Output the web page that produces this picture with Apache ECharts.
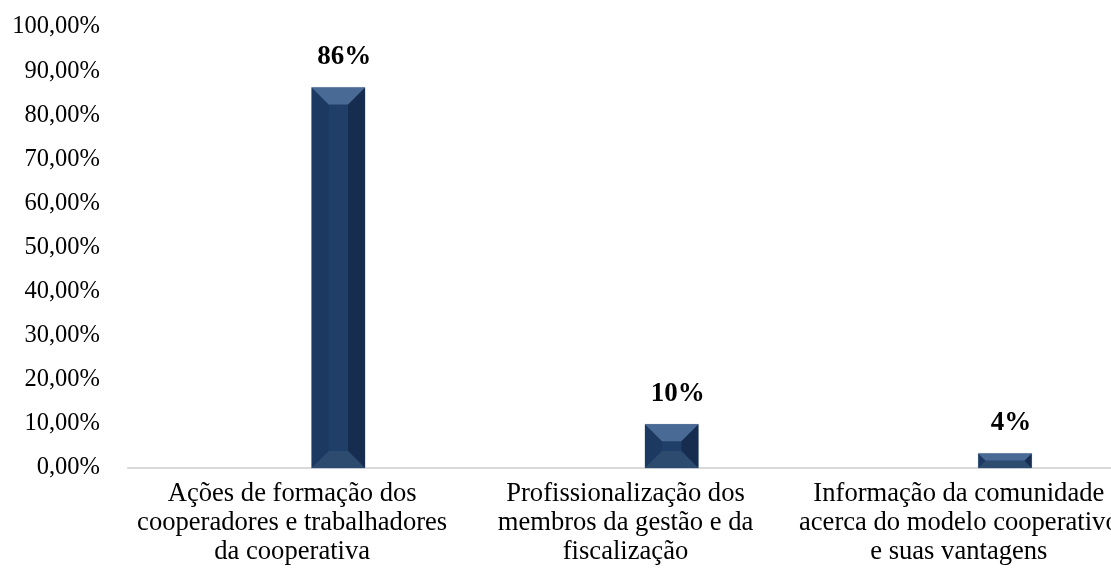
<!DOCTYPE html>
<html>
<head>
<meta charset="utf-8">
<script src="https://cdn.jsdelivr.net/npm/echarts@6/dist/echarts.min.js"></script>
<style>
html,body{margin:0;padding:0;background:#fff;overflow:hidden;width:1111px;height:573px;}
#chart{width:1200px;height:573px;}
</style>
</head>
<body>
<div id="chart"></div>
<script>
const categories = [
  'Ações de formação dos\ncooperadores e trabalhadores\nda cooperativa',
  'Profissionalização dos\nmembros da gestão e da\nfiscalização',
  'Informação da comunidade\nacerca do modelo cooperativo\ne suas vantagens'
];
const values = [86.3, 9.9, 3.3];
const valueLabels = ['86%', '10%', '4%'];
const yTicks = { min: 0, max: 100, interval: 10 };

const FONT = "'Liberation Serif', 'Times New Roman', serif";
const chart = echarts.init(document.getElementById('chart'), null, { renderer: 'canvas' });

function renderItem(params, api) {
  const i = api.value(0), v = api.value(1);
  const base = api.coord([i, 0]);
  const top = api.coord([i, v]);
  const band = api.size([1, 0])[0];
  const w = band * 0.16;
  const cx = base[0] + band * 0.131;
  const x0 = cx - w / 2, x1 = cx + w / 2, y0 = top[1], y1 = base[1];
  const h = y1 - y0;
  const b = Math.min(17, h / 2, w / 2);
  const poly = (pts, fill) => ({ type: 'polygon', shape: { points: pts }, style: { fill: fill } });
  return {
    type: 'group',
    children: [
      { type: 'rect', shape: { x: x0, y: y0, width: w, height: h }, style: { fill: '#203f68', stroke: '#8f9fb6', lineWidth: 0.6 } },
      poly([[x0, y0], [x0 + b, y0 + b], [x0 + b, y1 - b], [x0, y1]], '#1c3961'),
      poly([[x1, y0], [x1 - b, y0 + b], [x1 - b, y1 - b], [x1, y1]], '#162d4f'),
      poly([[x0, y0], [x1, y0], [x1 - b, y0 + b], [x0 + b, y0 + b]], '#4a6a96'),
      poly([[x0, y1], [x1, y1], [x1 - b, y1 - b], [x0 + b, y1 - b]], '#2d4a6f'),
      {
        type: 'text',
        style: {
          x: cx + 6, y: y0 - 17,
          text: valueLabels[params.dataIndex],
          align: 'center', verticalAlign: 'bottom',
          font: 'bold 27px ' + FONT, fill: '#000'
        }
      }
    ]
  };
}

chart.setOption({
  animation: false,
  backgroundColor: '#fff',
  grid: { left: 128, top: 27, width: 1000, height: 441, containLabel: false },
  xAxis: {
    type: 'category',
    data: categories,
    axisLine: { show: true, lineStyle: { color: '#d9d9d9', width: 2 } },
    axisTick: { show: false },
    axisLabel: { interval: 0, color: '#000', fontFamily: FONT, fontSize: 26.6, lineHeight: 29, margin: 12, padding: [0, 5, 0, 0] },
    splitLine: { show: false }
  },
  yAxis: {
    type: 'value',
    min: yTicks.min, max: yTicks.max, interval: yTicks.interval,
    axisLine: { show: false },
    axisTick: { show: false },
    splitLine: { show: false },
    axisLabel: {
      color: '#000', fontFamily: FONT, fontSize: 24.5, margin: 28,
      formatter: v => v.toFixed(2).replace('.', ',') + '%'
    }
  },
  series: [{
    type: 'custom',
    renderItem: renderItem,
    clip: false,
    data: values.map((v, i) => [i, v])
  }]
});
</script>
</body>
</html>
